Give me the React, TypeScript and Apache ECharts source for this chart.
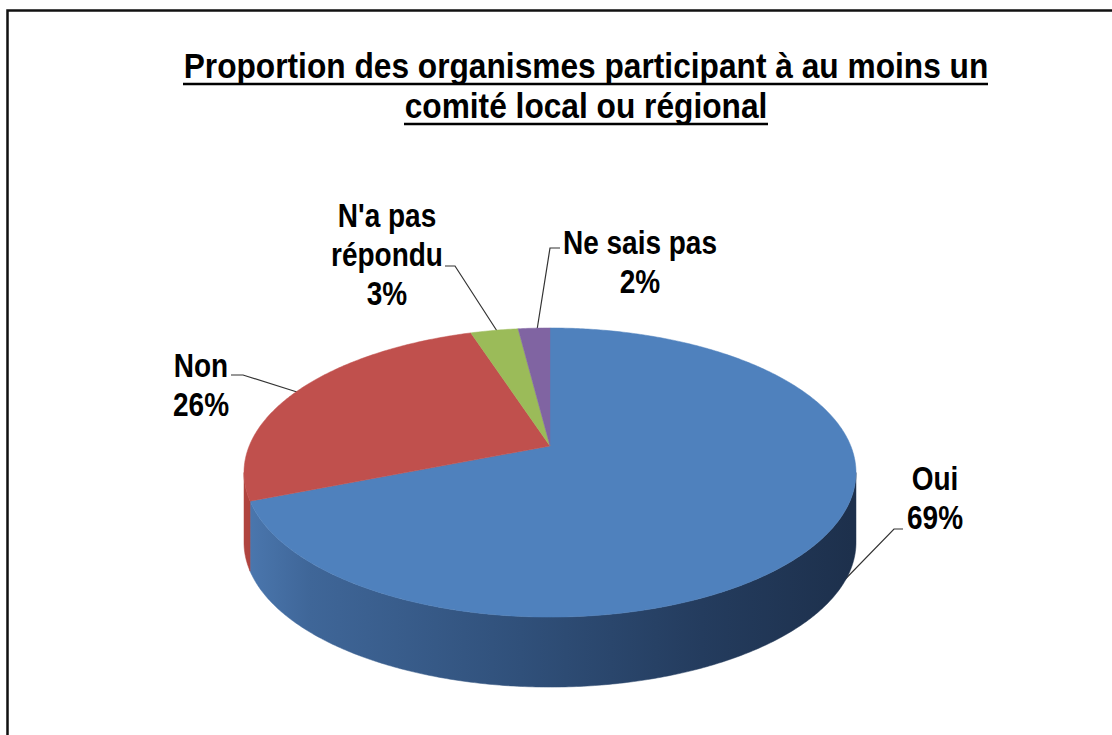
import React, { useEffect, useRef } from "react";
import * as echarts from "echarts";

// ---- data ----
const categories: string[] = ["Oui", "Non", "N'a pas répondu", "Ne sais pas"];
const values: number[] = [69, 26, 3, 2];
const labelLines: string[][] = [["Oui"], ["Non"], ["N'a pas", "répondu"], ["Ne sais pas"]];
const titleLines: string[] = [
  "Proportion des organismes participant à au moins un",
  "comité local ou régional",
];

// ---- styles / layout ----
const topColors = ["#4F81BD", "#C0504D", "#9BBB59", "#8064A2"];
const CX = 550;
const CY = 446;
const RA = 300.8;
const RB = 139.7;
const KP = 0.1835;
const H = 70;
const FONT = '"Liberation Sans", Arial, sans-serif';

// label layout: center x, first-line center y, leader line points
const labelLayout = [
  { x: 935, y: 479, line: [[903, 529], [894, 529], [823, 602]] },
  { x: 201, y: 366, line: [[231, 375], [243, 375], [297, 392]] },
  { x: 387, y: 216, line: [[445, 266], [455, 266], [497, 331]] },
  { x: 640, y: 243, line: [[560, 248], [550, 248], [537, 330]] },
];
const LINE_GAP = 39;

function proj(phi: number, dy = 0): number[] {
  const x = Math.sin(phi);
  const y = -Math.cos(phi);
  const w = 1 - KP * y;
  return [CX + (RA * x) / w, CY + (RB * y) / w + dy];
}

function arcPts(a0: number, a1: number, dy = 0): number[][] {
  const n = Math.max(2, Math.ceil((a1 - a0) / 0.01));
  const pts: number[][] = [];
  for (let i = 0; i <= n; i++) pts.push(proj(a0 + ((a1 - a0) * i) / n, dy));
  return pts;
}

function sideFill(i: number): any {
  if (i === 0) {
    return new echarts.graphic.LinearGradient(
      250, 0, 852, 0,
      [
        { offset: 0, color: "#4a76ad" },
        { offset: 0.1, color: "#3f6698" },
        { offset: 0.45, color: "#30507a" },
        { offset: 0.75, color: "#243c5e" },
        { offset: 1, color: "#1d304c" },
      ],
      true
    );
  }
  const solid = ["#4a76ad", "#b0443f", "#7e9a48", "#6a5288"];
  return solid[i];
}

export default function App() {
  const ref = useRef<HTMLDivElement>(null);
  useEffect(() => {
    if (!ref.current) return;
    const chart = echarts.init(ref.current, undefined, { renderer: "svg" });
    const total = values.reduce((s, v) => s + v, 0);
    const starts: number[] = [];
    let acc = 0;
    values.forEach((v) => {
      starts.push(acc);
      acc += v;
    });
    const phiR = Math.acos(-KP);
    const phiL = 2 * Math.PI - phiR;

    const graphics: any[] = [];
    // border
    graphics.push({
      type: "polyline",
      shape: { points: [[7.5, 735], [7.5, 10.5], [1112, 10.5]] },
      style: { stroke: "#111", lineWidth: 2.5, fill: null },
      silent: true,
    });
    // title
    const titleY = [66, 106];
    const underY = [84, 124];
    titleLines.forEach((t, i) => {
      graphics.push({
        type: "text",
        x: 586,
        y: titleY[i],
        scaleY: 1.12,
        style: {
          text: t,
          x: 0,
          y: 0,
          fill: "#000",
          font: `bold 31.7px ${FONT}`,
          textAlign: "center",
          textVerticalAlign: "middle",
        },
      });
    });
    graphics.push({
      type: "line",
      shape: { x1: 183, y1: underY[0], x2: 988, y2: underY[0] },
      style: { stroke: "#000", lineWidth: 2.5 },
    });
    graphics.push({
      type: "line",
      shape: { x1: 404, y1: underY[1], x2: 768, y2: underY[1] },
      style: { stroke: "#000", lineWidth: 2.5 },
    });
    // labels
    labelLayout.forEach((lay, i) => {
      const pct = Math.round((values[i] / total) * 100) + "%";
      const lines = [...labelLines[i], pct];
      lines.forEach((ln, j) => {
        graphics.push({
          type: "text",
          x: lay.x,
          y: lay.y + j * LINE_GAP,
          scaleY: 1.2,
          style: {
            text: ln,
            x: 0,
            y: 0,
            fill: "#000",
            font: `bold 28px ${FONT}`,
            textAlign: "center",
            textVerticalAlign: "middle",
          },
        });
      });
      graphics.push({
        type: "polyline",
        shape: { points: lay.line },
        style: { stroke: "#333", lineWidth: 1.2, fill: null },
        silent: true,
      });
    });

    chart.setOption({
      animation: false,
      backgroundColor: "#fff",
      series: [
        {
          type: "custom",
          coordinateSystem: "none",
          data: categories.map((c, i) => ({ name: c, value: values[i] })),
          renderItem: (params: any) => {
            const i = params.dataIndex;
            const a0 = (starts[i] / total) * 2 * Math.PI;
            const a1 = ((starts[i] + values[i]) / total) * 2 * Math.PI;
            const children: any[] = [];
            const s0 = Math.max(a0, phiR);
            const s1 = Math.min(a1, phiL);
            if (s1 > s0) {
              const up = arcPts(s0, s1, 0);
              const down = arcPts(s0, s1, H).reverse();
              children.push({
                type: "polygon",
                shape: { points: up.concat(down) },
                style: { fill: sideFill(i), stroke: sideFill(i), lineWidth: 0.5 },
              });
            }
            const top = [[CX, CY]].concat(arcPts(a0, a1, 0));
            children.push({
              type: "polygon",
              shape: { points: top },
              style: { fill: topColors[i], stroke: topColors[i], lineWidth: 0.5 },
            });
            return { type: "group", children };
          },
        },
      ],
      graphic: graphics,
    });
    return () => chart.dispose();
  }, []);
  return (
    <div
      ref={ref}
      style={{ position: "fixed", left: 0, top: 0, width: 1112, height: 735 }}
    />
  );
}
